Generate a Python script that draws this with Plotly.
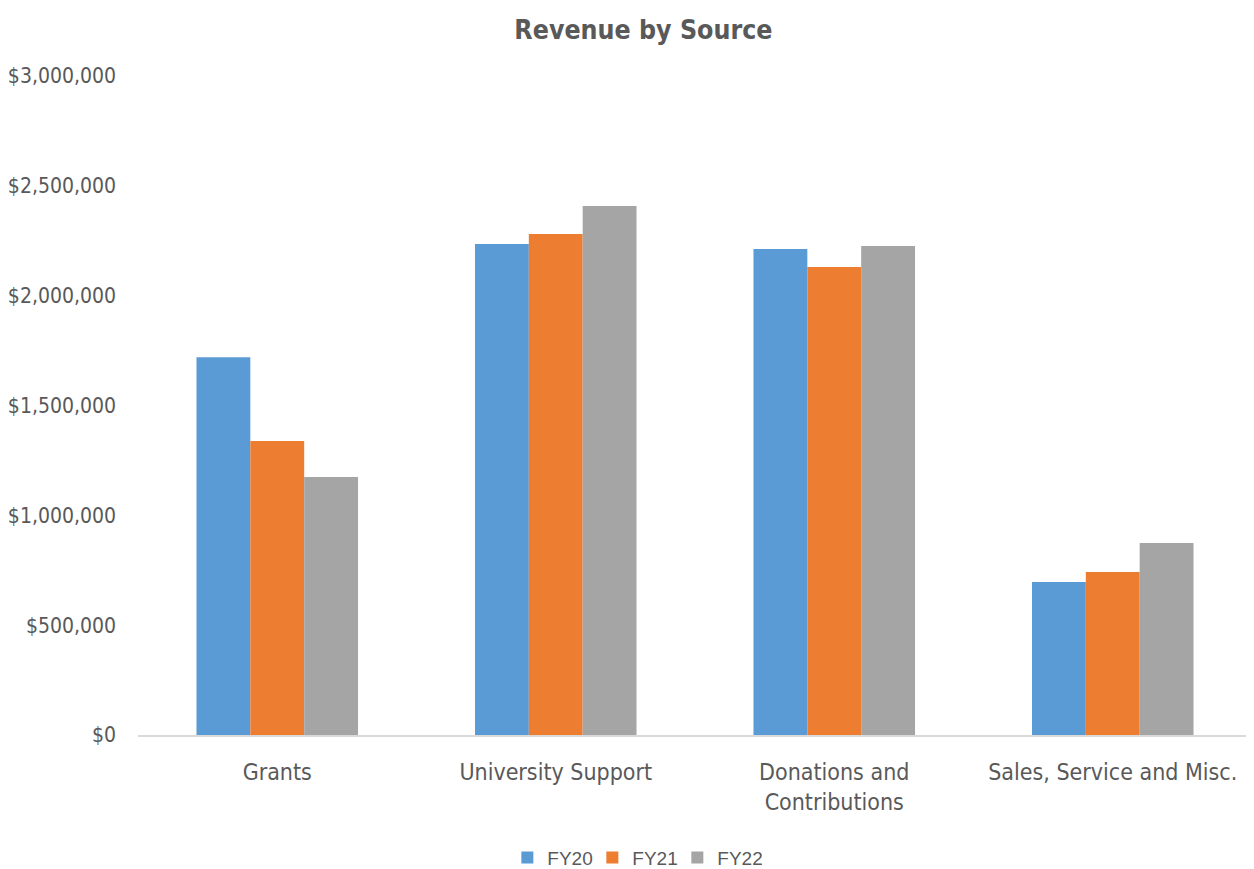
import plotly.graph_objects as go

categories = ["Grants", "University Support", "Donations and<br>Contributions", "Sales, Service and Misc."]
series_names = ["FY20", "FY21", "FY22"]
fy20 = [1720000, 2235000, 2212000, 696000]
fy21 = [1338000, 2281000, 2130000, 742000]
fy22 = [1175000, 2408000, 2226000, 874000]
colors = ["#5B9BD5", "#ED7D31", "#A5A5A5"]
y_tickvals = [0, 500000, 1000000, 1500000, 2000000, 2500000, 3000000]
y_ticktext = ["$0", "$500,000", "$1,000,000", "$1,500,000", "$2,000,000", "$2,500,000", "$3,000,000"]

cond = "Liberation Sans Narrow, DejaVu Sans Condensed, Roboto Condensed, sans-serif"

fig = go.Figure()
for name, vals, c in zip(series_names, [fy20, fy21, fy22], colors):
    fig.add_trace(go.Bar(x=categories, y=vals, name=name, marker=dict(color=c, line=dict(width=0))))

fig.update_layout(
    width=1246, height=861,
    paper_bgcolor="white", plot_bgcolor="white",
    barmode="group", bargap=0.42, bargroupgap=0,
    margin=dict(l=130, r=2, t=68, b=134, autoexpand=False),
    title=dict(text="<b>Revenue by Source</b>", x=0.51, xanchor="center", y=0.975, yanchor="middle",
               font=dict(family=cond, size=26.5, color="#595959")),
    xaxis=dict(showline=True, linecolor="#D9D9D9", linewidth=1.5, ticks="", showgrid=False,
               ticklabelstandoff=16,
               tickfont=dict(family=cond, size=23, color="#595959")),
    yaxis=dict(range=[0, 3000000], tickvals=y_tickvals, ticktext=y_ticktext, showgrid=False,
               zeroline=False, showline=False, ticks="", ticklabelstandoff=21,
               tickfont=dict(family=cond, size=21, color="#595959")),
    legend=dict(orientation="h", x=0.446, xanchor="center", y=-0.186, yanchor="middle",
                entrywidth=40, entrywidthmode="pixels",
                font=dict(family="Liberation Sans, Arial, sans-serif", size=19, color="#595959"),
                traceorder="normal"),
)
fig.write_html("out.html")
